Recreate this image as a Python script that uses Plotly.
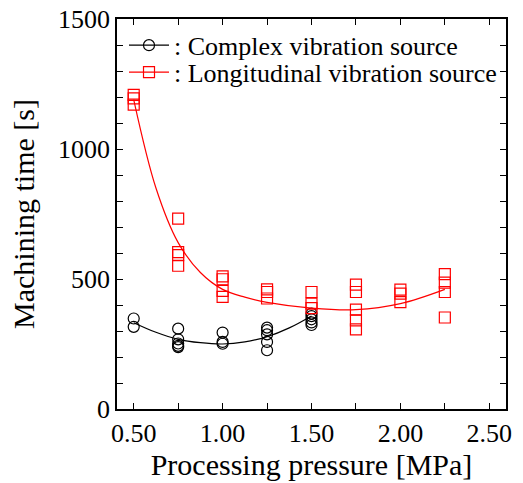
import plotly.graph_objects as go

# Measured data: Complex vibration source
complex_x = [0.5, 0.5,
             0.75, 0.75, 0.75, 0.75, 0.75,
             1.0, 1.0, 1.0,
             1.25, 1.25, 1.25, 1.25, 1.25,
             1.5, 1.5, 1.5, 1.5, 1.5]
complex_y = [348, 316,
             309, 268, 252, 243, 238,
             294, 258, 251,
             313, 303, 287, 258, 226,
             367, 357, 345, 333, 323]

# Measured data: Longitudinal vibration source
long_x = [0.5, 0.5, 0.5,
          0.75, 0.75, 0.75, 0.75,
          1.0, 1.0, 1.0, 1.0,
          1.25, 1.25, 1.25,
          1.5, 1.5, 1.5,
          1.75, 1.75, 1.75, 1.75, 1.75,
          2.0, 2.0, 2.0,
          2.25, 2.25, 2.25, 2.25]
long_y = [1208, 1195, 1171,
          732, 603, 592, 551,
          510, 499, 454, 431,
          460, 450, 425,
          450, 405, 388,
          478, 450, 382, 341, 306,
          459, 444, 411,
          519, 486, 450, 352]

# Fitted curves
complex_fit_x = [0.5, 0.625, 0.75, 0.875, 1.0, 1.125, 1.25, 1.375, 1.5]
complex_fit_y = [332, 295, 268, 255, 250, 258, 278, 312, 358]
long_fit_x = [0.5, 0.625, 0.75, 0.875, 1.0, 1.125, 1.25, 1.5, 1.75, 2.0, 2.25]
long_fit_y = [1190, 850, 640, 525, 460, 430, 410, 388, 382, 405, 460]

names = [": Complex vibration source", ": Longitudinal vibration source"]
colors = ["#000000", "#ff0000"]
symbols = ["circle-open", "square-open"]
legend_ids = ["legend", "legend2"]

FONT = "Liberation Serif"

fig = go.Figure()
series = [(complex_x, complex_y, complex_fit_x, complex_fit_y),
          (long_x, long_y, long_fit_x, long_fit_y)]
for i, (dx, dy, fx, fy) in enumerate(series):
    fig.add_trace(go.Scatter(x=fx, y=fy, mode="lines", line=dict(color=colors[i], width=1.2, shape="spline", smoothing=1.0),
                             showlegend=False, hoverinfo="skip"))
    fig.add_trace(go.Scatter(x=dx, y=dy, mode="markers",
                             marker=dict(symbol=symbols[i], size=11, color=colors[i], line=dict(width=1.2, color=colors[i])),
                             showlegend=False))
for i in range(2):
    fig.add_trace(go.Scatter(x=[None], y=[None], mode="lines+markers", name=names[i], legend=legend_ids[i],
                             line=dict(color=colors[i], width=1.2),
                             marker=dict(symbol=symbols[i], size=11, color=colors[i], line=dict(width=1.2, color=colors[i]))))

axis_common = dict(showline=True, linecolor="black", linewidth=1.5, mirror="allticks",
                   ticks="inside", ticklen=6, tickwidth=1, tickcolor="black",
                   showgrid=False, zeroline=False, automargin=False,
                   ticklabeloverflow="allow",
                   tickfont=dict(family=FONT, size=26, color="black"))

fig.update_xaxes(range=[0.406, 2.594], tick0=0.5, dtick=0.5, tickformat=".2f",
                 minor=dict(dtick=0.25, tick0=0.5, ticks="inside", ticklen=6, tickcolor="black"),
                 title=dict(text="Processing pressure [MPa]", font=dict(family=FONT, size=30, color="black"), standoff=4),
                 **axis_common)
fig.update_yaxes(range=[0, 1500], tick0=0, dtick=500,
                 minor=dict(dtick=100, ticks="inside", ticklen=6, tickcolor="black"),
                 title=dict(text="Machining time [s]", font=dict(family=FONT, size=30, color="black"), standoff=15),
                 **axis_common)

leg_common = dict(x=0.018, xanchor="left", yanchor="middle", bgcolor="rgba(0,0,0,0)",
                  font=dict(family=FONT, size=26, color="black"), itemwidth=40)

fig.update_layout(width=523, height=483,
                  margin=dict(l=117, r=17, t=19, b=74),
                  paper_bgcolor="white", plot_bgcolor="white",
                  font=dict(family=FONT, color="black"),
                  legend=dict(y=0.9326, **leg_common),
                  legend2=dict(y=0.8633, **leg_common))

fig.write_html("out.html", config={"displayModeBar": False},
               post_script="document.body.style.margin='0';document.body.style.overflow='hidden';")
